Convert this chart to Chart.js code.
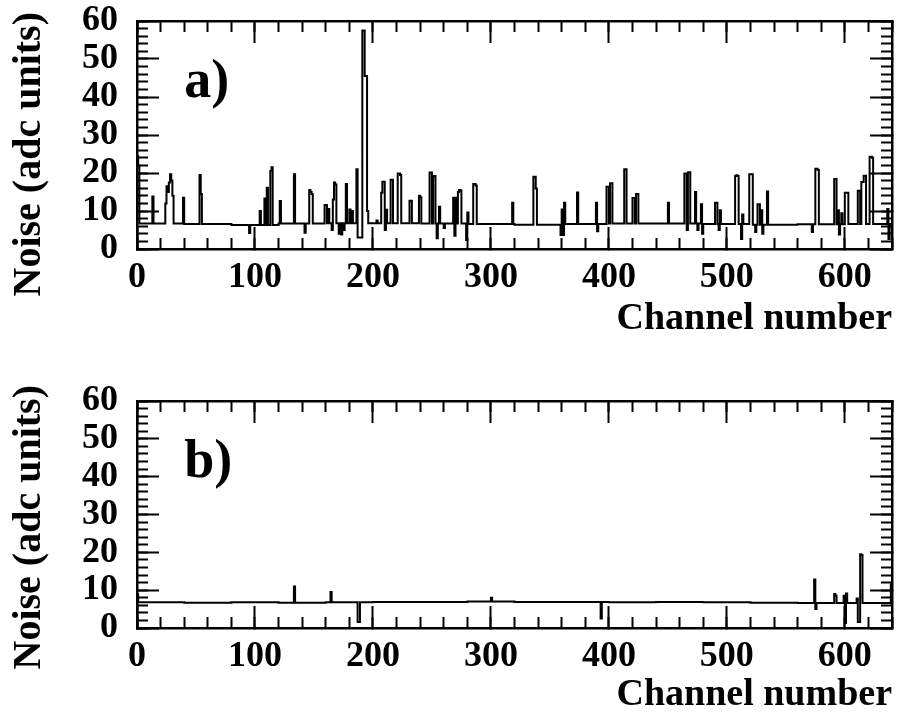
<!DOCTYPE html>
<html>
<head>
<meta charset="utf-8">
<script src="https://cdn.jsdelivr.net/npm/chart.js@4.4.1/dist/chart.umd.min.js"></script>
<style>
  body { margin: 0; background: #fff; }
  canvas { position: absolute; left: 0; }
  #panelA { top: 0; }
  #panelB { top: 357px; }
</style>
</head>
<body>
<canvas id="panelA" width="897" height="357"></canvas>
<canvas id="panelB" width="897" height="357"></canvas>
<script>
// tick labels
const xTickValues = [0, 100, 200, 300, 400, 500, 600];
const yTickValues = [0, 10, 20, 30, 40, 50, 60];

// baseline noise, one value per block of 40 channels
const baseA = [6.7, 6.6, 6.3, 6.7, 6.8, 6.8, 6.7, 6.6, 6.4, 6.6, 6.7, 6.7, 6.6, 6.4, 6.5, 6.6];
const baseB = [6.8, 6.7, 6.8, 6.7, 6.8, 6.9, 6.9, 7.0, 6.9, 6.9, 6.8, 6.9, 6.8, 6.7, 6.6, 6.6];

// channels that stick out of the baseline, panel a)
const spikeChA = [0, 1, 13, 24, 25, 26, 27, 28, 29, 30, 39, 53, 54, 95, 104, 108, 110, 113, 114, 121,
  133, 142, 146, 147, 148, 159, 160, 162, 165, 166, 167, 168, 171, 173, 175, 177, 180, 182, 186, 187,
  188, 189, 190, 191, 192, 193, 194, 195, 203, 207, 208, 209, 210, 211, 215, 216, 221, 222, 223, 231,
  232, 239, 240, 248, 249, 251, 252, 254, 256, 260, 268, 269, 270, 272, 273, 274, 279, 280, 285, 286,
  287, 318, 336, 337, 338, 359, 360, 361, 362, 373, 389, 390, 398, 399, 401, 402, 413, 414, 420, 421,
  423, 424, 450, 464, 465, 466, 467, 468, 473, 475, 478, 479, 490, 491, 493, 494, 507, 508, 509, 512,
  513, 519, 520, 521, 524, 526, 527, 529, 530, 534, 572, 575, 576, 577, 591, 592, 594, 595, 597, 600,
  601, 602, 611, 612, 614, 615, 616, 617, 621, 622, 623, 636, 637];
const spikeValA = [24.5, 22, 13.8, 12, 16.5, 15, 17.5, 19.7, 18, 14, 13.5, 19.5, 14.5, 4.2, 10, 13.3, 16.1, 20.5, 21.5, 12.6,
  19.7, 4.3, 15.5, 15, 14.5, 11.6, 11.6, 10.5, 5, 13, 17.5, 17, 4, 3.8, 5, 17.1, 10.4, 10, 21, 3,
  3, 3, 3, 57.5, 57.5, 45.5, 45.5, 10, 7.5, 14.8, 17.7, 17.7, 5, 10.3, 18.2, 18.2, 19.9, 19.9, 19.5, 12.7,
  12.7, 14, 13.6, 20.1, 20.1, 19.2, 19.2, 2.8, 11.1, 5.5, 13.5, 3.5, 13.5, 15, 15.5, 15.4, 2.4, 9.6, 17.1, 17.1,
  16.7, 12.2, 19, 19, 15.9, 3.7, 10.4, 3.7, 12.2, 14.9, 12.2, 4.7, 16.4, 16.4, 17.3, 17.3, 21, 21, 13.4, 13.4,
  14.5, 14.5, 12.2, 19.9, 19.9, 5, 20.2, 20.2, 15, 5, 11.8, 4, 12.2, 12.2, 5, 10.2, 19.2, 19.4, 19.2, 2.6,
  9.1, 19.7, 19.7, 19.7, 4.5, 11.8, 11.8, 10.2, 4, 15.1, 4.5, 21.1, 21.1, 20.8, 18.4, 18.4, 10.2, 3.8, 9.4, 14.8,
  14.8, 14.8, 15.3, 15.3, 17.6, 17.6, 19.3, 19.3, 24.3, 24.3, 24, 10.5, 2.6];

// panel b)
const spikeChB = [0, 133, 164, 187, 188, 300, 393, 574, 575, 591, 592, 599, 600, 601, 610, 611, 612, 613, 614, 639];
const spikeValB = [9, 11, 9.5, 1.6, 1.6, 8, 2.5, 12.8, 5, 9, 8.5, 8.5, 1.3, 9.1, 7.8, 1.6, 1.6, 19.5, 19.3, 11.5];

const labelAt = [40, 40];

const FONT = "'Liberation Serif', 'Times New Roman', serif";
Chart.defaults.font.family = FONT;
Chart.defaults.color = '#000';

function buildPoints(base, spikeCh, spikeVal) {
  const vals = base.flatMap(v => Array(40).fill(v));
  spikeCh.forEach((c, k) => { vals[c] = spikeVal[k]; });
  const pts = vals.map((v, i) => ({ x: i + 0.5, y: v }));
  pts.unshift({ x: 0, y: vals[0] });
  pts.push({ x: vals.length, y: vals[vals.length - 1] });
  return pts;
}

// "a)" / "b)" inside the frame
const panelLabel = {
  id: 'panelLabel',
  afterDraw(chart, args, opts) {
    const { ctx, scales } = chart;
    ctx.save();
    ctx.font = 'bold 54px ' + FONT;
    ctx.fillStyle = '#000';
    ctx.textBaseline = 'alphabetic';
    ctx.fillText(opts.text, scales.x.getPixelForValue(labelAt[0]), scales.y.getPixelForValue(labelAt[1]));
    ctx.restore();
  }
};

const tickFont = { size: 36, weight: 'bold', lineHeight: 1 };
const majorGrid = { drawOnChartArea: false, tickLength: -22, tickWidth: 2, tickColor: '#000' };
const minorGrid = { drawOnChartArea: false, tickLength: -11, tickWidth: 2, tickColor: '#000' };
const frame = { color: '#000', width: 2.5 };

// fixed box size, and no extra room for overhanging labels
function fixSize(prop, size) {
  return s => {
    s[prop] = size;
    s.paddingTop = s.paddingBottom = s.paddingLeft = s.paddingRight = 0;
  };
}

function makePanel(id, points, text, padTop, topGap, xHeight, xTitlePad) {
  const xRange = { type: 'linear', min: 0, max: 640 };
  const yRange = { type: 'linear', min: 0, max: 60 };
  const xMajor = s => { s.ticks = xTickValues.map(v => ({ value: v })); };
  const yMajor = s => { s.ticks = yTickValues.map(v => ({ value: v })); };
  return new Chart(document.getElementById(id), {
    type: 'line',
    data: {
      datasets: [{
        data: points,
        stepped: 'middle',
        borderColor: '#000',
        borderWidth: 2,
        pointRadius: 0,
        fill: false
      }]
    },
    plugins: [panelLabel],
    options: {
      responsive: false,
      animation: false,
      events: [],
      layout: { autoPadding: false, padding: { top: padTop, left: 0, right: 5, bottom: 0 } },
      plugins: {
        legend: { display: false },
        tooltip: { enabled: false },
        title: {
          display: true, position: 'left', align: 'end', text: 'Noise (adc units)',
          color: '#000', font: { size: 40, weight: 'bold', lineHeight: 1 }, padding: { top: 10, bottom: 0 }
        },
        panelLabel: { text: text }
      },
      scales: {
        x: {
          ...xRange, position: 'bottom', weight: 1,
          afterBuildTicks: xMajor,
          afterFit: fixSize('height', xHeight),
          ticks: { font: tickFont, color: '#000', padding: 33, maxRotation: 0, autoSkip: false },
          grid: majorGrid, border: frame,
          title: {
            display: true, text: 'Channel number', align: 'end', color: '#000',
            font: { size: 38, weight: 'bold', lineHeight: 1 }, padding: { top: 0, bottom: xTitlePad }
          }
        },
        xMinor: {
          ...xRange, position: 'bottom', weight: 0,
          afterFit: fixSize('height', 0),
          ticks: { display: false, stepSize: 20 },
          grid: minorGrid, border: { display: false }
        },
        xTop: {
          ...xRange, position: 'top', weight: 1,
          afterBuildTicks: xMajor,
          afterFit: fixSize('height', topGap),
          ticks: { display: false },
          grid: majorGrid, border: frame
        },
        xTopMinor: {
          ...xRange, position: 'top', weight: 0,
          afterFit: fixSize('height', 0),
          ticks: { display: false, stepSize: 20 },
          grid: minorGrid, border: { display: false }
        },
        y: {
          ...yRange, position: 'left', weight: 1,
          afterBuildTicks: yMajor,
          afterFit: fixSize('width', 87),
          ticks: { font: tickFont, color: '#000', padding: 41, autoSkip: false },
          grid: majorGrid, border: frame
        },
        yMinor: {
          ...yRange, position: 'left', weight: 0,
          afterFit: fixSize('width', 0),
          ticks: { display: false, stepSize: 2 },
          grid: minorGrid, border: { display: false }
        },
        yRight: {
          ...yRange, position: 'right', weight: 0,
          afterBuildTicks: yMajor,
          afterFit: fixSize('width', 0),
          ticks: { display: false },
          grid: majorGrid, border: frame
        },
        yRightMinor: {
          ...yRange, position: 'right', weight: 1,
          afterFit: fixSize('width', 0),
          ticks: { display: false, stepSize: 2 },
          grid: minorGrid, border: { display: false }
        }
      }
    }
  });
}

makePanel('panelA', buildPoints(baseA, spikeChA, spikeValA), 'a)', 12, 9, 108, 19);
makePanel('panelB', buildPoints(baseB, spikeChB, spikeValB), 'b)', 28, 16, 86, 0);
</script>
</body>
</html>
